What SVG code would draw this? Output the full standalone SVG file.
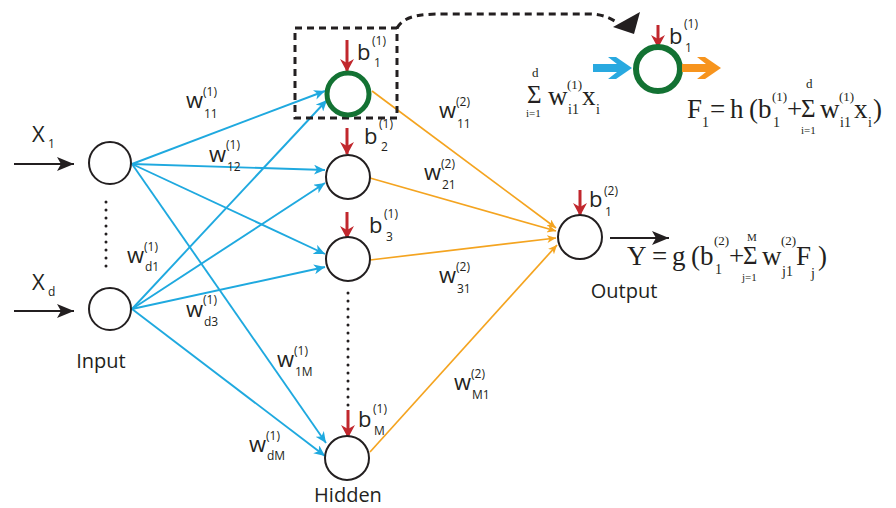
<svg xmlns="http://www.w3.org/2000/svg" width="896" height="508" viewBox="0 0 896 508">
<style>
.lbl{font-family:"Open Sans","Liberation Sans",sans-serif;fill:#231f20}
.w{font-size:22px}
.s{font-size:12px}
.cap{font-size:20px}
.x{font-size:22px}
.f{font-family:"Liberation Serif","Times New Roman",serif;fill:#231f20}
.m{font-size:27px}
.sp{font-size:13px}
.sb{font-size:14px}
.sg{font-size:25px}
.lim{font-size:11px}
.node{fill:#fff;stroke:#231f20;stroke-width:2}
.blue{stroke:#1fa9df;stroke-width:1.9;fill:none;marker-end:url(#mb)}
.orange{stroke:#f4a420;stroke-width:1.7;fill:none;marker-end:url(#mo)}
.red{stroke:#c1272d;stroke-width:3;fill:none;marker-end:url(#mr)}
.blk{stroke:#231f20;stroke-width:2;fill:none;marker-end:url(#mk)}
.dash{stroke:#231f20;stroke-width:3;fill:none;stroke-dasharray:7 5}
.dot{stroke:#231f20;stroke-width:3;stroke-linecap:round;stroke-dasharray:0 8;fill:none}
</style>
<defs>
<marker id="mb" markerUnits="userSpaceOnUse" markerWidth="12" markerHeight="10" refX="11" refY="5" orient="auto"><path d="M0,0 L11,5 L0,10 L3,5 Z" fill="#1fa9df"/></marker>
<marker id="mo" markerUnits="userSpaceOnUse" markerWidth="10" markerHeight="8" refX="9" refY="4" orient="auto"><path d="M0,0 L9,4 L0,8 L2.5,4 Z" fill="#f4a420"/></marker>
<marker id="mr" markerUnits="userSpaceOnUse" markerWidth="14" markerHeight="14" refX="12" refY="7" orient="auto"><path d="M0,0 L13,7 L0,14 L4,7 Z" fill="#c1272d"/></marker>
<marker id="mk" markerUnits="userSpaceOnUse" markerWidth="18" markerHeight="14" refX="17" refY="7" orient="auto"><path d="M0,0 L17,7 L0,14 L4,7 Z" fill="#231f20"/></marker>
</defs>
<rect width="896" height="508" fill="#fff"/>

<g id="connectors">
  <line class="blk" x1="14" y1="164" x2="74" y2="164"/>
  <line class="blk" x1="14" y1="311" x2="74" y2="311"/>
  <line class="blue" x1="132" y1="164" x2="325" y2="91"/>
  <line class="blue" x1="132" y1="164" x2="325" y2="170"/>
  <line class="blue" x1="132" y1="164" x2="325" y2="254"/>
  <line class="blue" x1="132" y1="164" x2="326" y2="443"/>
  <line class="blue" x1="132" y1="309" x2="327" y2="100"/>
  <line class="blue" x1="132" y1="309" x2="325" y2="183"/>
  <line class="blue" x1="132" y1="309" x2="325" y2="267"/>
  <line class="blue" x1="132" y1="309" x2="325" y2="456"/>
  <line class="orange" x1="372" y1="91" x2="556" y2="228"/>
  <line class="orange" x1="370" y1="178" x2="556" y2="231"/>
  <line class="orange" x1="370" y1="260" x2="556" y2="238"/>
  <line class="orange" x1="370" y1="452" x2="557" y2="245"/>
  <line class="red" x1="347" y1="40" x2="347" y2="71"/>
  <line class="red" x1="347" y1="128" x2="347" y2="154"/>
  <line class="red" x1="347" y1="212" x2="347" y2="238"/>
  <line class="red" x1="348" y1="410" x2="348" y2="437"/>
  <line class="red" x1="580" y1="190" x2="580" y2="215"/>
  <line class="red" x1="658" y1="25" x2="658" y2="47"/>
  <line class="blk" x1="610" y1="238" x2="669" y2="238"/>
  <rect class="dash" x="295" y="28" width="102" height="90"/>
  <path class="dash" d="M397,28 C405,14 425,14 450,14 L590,14 C602,14 610,18 618,23"/>
  <polygon points="613,27 640,12 634,34" fill="#231f20"/>
  <line class="dot" x1="106" y1="202" x2="106" y2="268"/>
  <line class="dot" x1="348" y1="293" x2="348" y2="410"/>
</g>

<g id="in1"><circle class="node" cx="110" cy="163" r="21"/>
  <text class="lbl x" x="32" y="142">X</text><text class="lbl s" x="48" y="148">1</text></g>
<g id="ind"><circle class="node" cx="110" cy="309" r="21"/>
  <text class="lbl x" x="32" y="290">X</text><text class="lbl s" x="48" y="296">d</text>
  <text class="lbl cap" x="101" y="368" text-anchor="middle">Input</text></g>

<g id="h1"><circle cx="348" cy="94" r="21" fill="#fff" stroke="#137233" stroke-width="5"/>
  <text class="lbl w" x="357" y="60">b</text><text class="lbl s" x="372" y="45">(1)</text><text class="lbl s" x="374" y="67">1</text></g>
<g id="h2"><circle class="node" cx="348" cy="177" r="22"/>
  <text class="lbl w" x="364" y="144">b</text><text class="lbl s" x="379" y="128">(1)</text><text class="lbl s" x="381" y="151">2</text></g>
<g id="h3"><circle class="node" cx="348" cy="259" r="22"/>
  <text class="lbl w" x="369" y="233">b</text><text class="lbl s" x="384" y="218">(1)</text><text class="lbl s" x="386" y="241">3</text></g>
<g id="hM"><circle class="node" cx="347" cy="458" r="22"/>
  <text class="lbl w" x="358" y="427">b</text><text class="lbl s" x="373" y="413">(1)</text><text class="lbl s" x="374" y="435">M</text>
  <text class="lbl cap" x="348" y="502" text-anchor="middle">Hidden</text></g>

<g id="out"><circle class="node" cx="580" cy="237" r="22"/>
  <text class="lbl w" x="589" y="207">b</text><text class="lbl s" x="604" y="195">(2)</text><text class="lbl s" x="605" y="216">1</text>
  <text class="lbl cap" x="624" y="298" text-anchor="middle">Output</text></g>

<g id="weights">
  <text class="lbl w" x="186" y="108">w</text><text class="lbl s" x="203" y="96">(1)</text><text class="lbl s" x="204" y="118">11</text>
  <text class="lbl w" x="209" y="162">w</text><text class="lbl s" x="226" y="149">(1)</text><text class="lbl s" x="227" y="171">12</text>
  <text class="lbl w" x="127" y="263">w</text><text class="lbl s" x="144" y="251">(1)</text><text class="lbl s" x="145" y="271">d1</text>
  <text class="lbl w" x="186" y="317">w</text><text class="lbl s" x="203" y="304">(1)</text><text class="lbl s" x="204" y="326">d3</text>
  <text class="lbl w" x="277" y="367">w</text><text class="lbl s" x="294" y="355">(1)</text><text class="lbl s" x="295" y="376">1M</text>
  <text class="lbl w" x="249" y="452">w</text><text class="lbl s" x="266" y="440">(1)</text><text class="lbl s" x="267" y="460">dM</text>
  <text class="lbl w" x="439" y="118">w</text><text class="lbl s" x="456" y="106">(2)</text><text class="lbl s" x="457" y="128">11</text>
  <text class="lbl w" x="424" y="180">w</text><text class="lbl s" x="441" y="168">(2)</text><text class="lbl s" x="442" y="189">21</text>
  <text class="lbl w" x="439" y="283">w</text><text class="lbl s" x="456" y="271">(2)</text><text class="lbl s" x="457" y="293">31</text>
  <text class="lbl w" x="454" y="390">w</text><text class="lbl s" x="471" y="378">(2)</text><text class="lbl s" x="472" y="399">M1</text>
</g>

<g id="detail">
  <circle cx="658" cy="69" r="22" fill="#fff" stroke="#137233" stroke-width="6"/>
  <polygon points="593,64 617,64 608,57 616,57 632,68 616,79 608,79 617,72 593,72" fill="#29a9e0"/>
  <polygon points="682,64 706,64 697,57 705,57 721,68 705,79 697,79 706,72 682,72" fill="#f7941d"/>
  <text class="lbl w" x="669" y="44">b</text><text class="lbl s" x="684" y="28">(1)</text><text class="lbl s" x="685" y="52">1</text>
  <!-- left sum -->
  <text class="f sg" x="527" y="103">Σ</text>
  <text class="f sp" x="532" y="77">d</text>
  <text class="f lim" x="526" y="117">i=1</text>
  <text class="f m" x="548" y="105">w</text>
  <text class="f sp" x="567" y="89">(1)</text>
  <text class="f sb" x="568" y="114">i1</text>
  <text class="f m" x="582" y="105">x</text>
  <text class="f sb" x="596" y="114">i</text>
  <!-- F formula -->
  <text class="f m" x="687" y="118">F</text>
  <text class="f sb" x="702" y="127">1</text>
  <text class="f m" x="710" y="118">=</text>
  <text class="f m" x="730" y="118">h</text>
  <text class="f m" x="749" y="118">(</text>
  <text class="f m" x="758" y="118">b</text>
  <text class="f sp" x="772" y="101">(1)</text>
  <text class="f sb" x="773" y="127">1</text>
  <text class="f m" x="787" y="118" font-size="24">+</text>
  <text class="f sg" x="801" y="117">Σ</text>
  <text class="f sp" x="806" y="88">d</text>
  <text class="f lim" x="801" y="134">i=1</text>
  <text class="f m" x="820" y="118">w</text>
  <text class="f sp" x="839" y="101">(1)</text>
  <text class="f sb" x="840" y="127">i1</text>
  <text class="f m" x="854" y="118">x</text>
  <text class="f sb" x="868" y="127">i</text>
  <text class="f m" x="873" y="118">)</text>
  <!-- Y formula -->
  <text class="f m" x="627" y="265">Y</text>
  <text class="f m" x="652" y="265">=</text>
  <text class="f m" x="672" y="265">g</text>
  <text class="f m" x="691" y="265">(</text>
  <text class="f m" x="700" y="265">b</text>
  <text class="f sp" x="714" y="245">(2)</text>
  <text class="f sb" x="715" y="274">1</text>
  <text class="f m" x="729" y="265" font-size="24">+</text>
  <text class="f sg" x="743" y="264">Σ</text>
  <text class="f lim" x="747" y="241">M</text>
  <text class="f lim" x="742" y="281">j=1</text>
  <text class="f m" x="762" y="265">w</text>
  <text class="f sp" x="781" y="245">(2)</text>
  <text class="f sb" x="782" y="276">j1</text>
  <text class="f m" x="796" y="265">F</text>
  <text class="f sb" x="811" y="278">j</text>
  <text class="f m" x="818" y="265">)</text>
</g>
</svg>
